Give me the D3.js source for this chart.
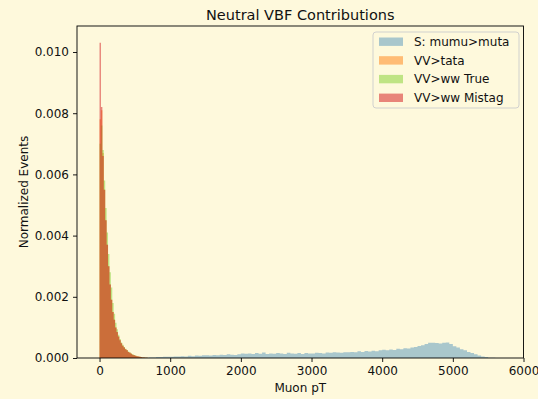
<!DOCTYPE html>
<html>
<head>
<meta charset="utf-8">
<script src="https://cdn.jsdelivr.net/npm/d3@7"></script>
<style>
  html, body { margin: 0; padding: 0; background: #fef9dc; }
  svg { display: block; font-family: "DejaVu Sans", sans-serif; }
</style>
</head>
<body>
<svg id="chart" width="538" height="399"></svg>
<script>
// Low-pT background samples: bins of 20 GeV starting at 0 GeV
const lowBinStart = 0;
const lowBinWidth = 20;
const vvTata = [0.0078, 0.0081, 0.0067, 0.0055, 0.0045, 0.0037, 0.0030, 0.0024, 0.0019, 0.0015,
                0.00125, 0.00100, 0.00084, 0.00070, 0.00058, 0.00048, 0.00040, 0.00034, 0.00029, 0.00025,
                0.00020, 0.00017, 0.00014, 0.00011, 0.00009, 0.00007, 0.00006, 0.00005, 0.00004, 0.00003,
                0.00002, 0.000015, 0.00001, 0.000006, 0.000004];
const vvWwTrue = [0.0070, 0.0076, 0.0068, 0.0058, 0.0049, 0.0041, 0.0034, 0.0028, 0.0023, 0.0018,
                  0.00145, 0.00115, 0.00094, 0.00076, 0.00062, 0.00051, 0.00043, 0.00036, 0.00030, 0.00026,
                  0.00021, 0.00018, 0.00015, 0.00012, 0.00010, 0.00008, 0.00006, 0.00005, 0.00004, 0.00003,
                  0.00002, 0.000015, 0.00001, 0.000006, 0.000004];
const vvWwMistag = [0.0103, 0.0082, 0.0066, 0.0055, 0.0045, 0.0037, 0.0030, 0.0024, 0.0019, 0.0015,
                    0.00125, 0.00100, 0.00085, 0.00070, 0.00058, 0.00048, 0.00040, 0.00034, 0.00029, 0.00025,
                    0.00020, 0.00017, 0.00014, 0.00011, 0.00009, 0.00007, 0.00006, 0.00005, 0.00004, 0.00003,
                    0.00002, 0.000015, 0.00001, 0.000006, 0.000004];

// Signal sample: bins of 50 GeV starting at 600 GeV
const sigBinStart = 600;
const sigBinWidth = 50;
const sigMumuMuta = [
  0.00001, 0.00001, 0.00002, 0.00002, 0.00003, 0.00003, 0.00004, 0.00004,
  0.00004, 0.00005, 0.00005, 0.00006, 0.00005, 0.00007, 0.00006, 0.00008, 0.00007, 0.00009,
  0.00009, 0.00008, 0.00010, 0.00009, 0.00011, 0.00010, 0.00012, 0.00011, 0.00010, 0.00012,
  0.00015, 0.00014, 0.00015, 0.00013, 0.00016, 0.00014, 0.00018, 0.00013, 0.00015, 0.00014,
  0.00016, 0.00015, 0.00013, 0.00017, 0.00015, 0.00014, 0.00016, 0.00013, 0.00016, 0.00015,
  0.00015, 0.00017, 0.00016, 0.00015, 0.00018, 0.00017, 0.00019, 0.00018, 0.00017, 0.00019,
  0.00019, 0.00020, 0.00019, 0.00022, 0.00020, 0.00023, 0.00021, 0.00024, 0.00022, 0.00025,
  0.00027, 0.00025, 0.00028, 0.00026, 0.00030, 0.00029, 0.00032, 0.00031, 0.00034, 0.00036,
  0.00039, 0.00042, 0.00046, 0.00050, 0.00050, 0.00049, 0.00047, 0.00050, 0.00051, 0.00046,
  0.00038, 0.00034, 0.00029, 0.00025, 0.00020, 0.00016, 0.00012, 0.00008, 0.00005, 0.00003,
  0.00001, 0.000005
];

const xTicks = [0, 1000, 2000, 3000, 4000, 5000, 6000];
const yTicks = [0, 0.002, 0.004, 0.006, 0.008, 0.010];

const seriesNames = ["S: mumu>muta", "VV>tata", "VV>ww True", "VV>ww Mistag"];
const seriesColors = ["#1f77b4", "#ff7f0e", "#7fd02c", "#d62728"];
const seriesOpacity = [0.38, 0.5, 0.5, 0.55];

const bg = "#fef9dc";
const W = 538, H = 399;
const margin = { left: 77, right: 14.5, top: 26, bottom: 41 };

const svg = d3.select("#chart");
svg.append("rect").attr("width", W).attr("height", H).attr("fill", bg);

const x = d3.scaleLinear().domain([-319, 6000]).range([margin.left, W - margin.right]);
const y = d3.scaleLinear().domain([0, 0.01085]).range([H - margin.bottom, margin.top]);

// Build histogram bins from start, width and density values
function toBins(values, start, width) {
  return values.map((v, i) => ({ x0: start + i * width, x1: start + (i + 1) * width, v }));
}

// Step outline of a histogram, closed along the baseline
function histPath(bins) {
  const p = d3.path();
  p.moveTo(x(bins[0].x0), y(0));
  bins.forEach(b => {
    p.lineTo(x(b.x0), y(b.v));
    p.lineTo(x(b.x1), y(b.v));
  });
  p.lineTo(x(bins[bins.length - 1].x1), y(0));
  p.closePath();
  return p.toString();
}

const series = [
  toBins(sigMumuMuta, sigBinStart, sigBinWidth),
  toBins(vvTata, lowBinStart, lowBinWidth),
  toBins(vvWwTrue, lowBinStart, lowBinWidth),
  toBins(vvWwMistag, lowBinStart, lowBinWidth)
];

const plot = svg.append("g");
series.forEach((bins, i) => {
  plot.append("path")
    .attr("d", histPath(bins))
    .attr("fill", seriesColors[i])
    .attr("fill-opacity", seriesOpacity[i])
    .attr("stroke", "none");
});

// Axes
const fontSize = 12;
const xAxis = d3.axisBottom(x).tickValues(xTicks).tickFormat(d3.format("d")).tickSizeOuter(0).tickSize(4).tickPadding(4);
const yAxis = d3.axisLeft(y).tickValues(yTicks).tickFormat(d3.format(".3f")).tickSizeOuter(0).tickSize(4).tickPadding(4);

const gx = svg.append("g").attr("transform", `translate(0,${H - margin.bottom})`).call(xAxis);
const gy = svg.append("g").attr("transform", `translate(${margin.left},0)`).call(yAxis);
[gx, gy].forEach(g => {
  g.select(".domain").remove();
  g.selectAll("line").attr("stroke", "#000").attr("stroke-width", 0.9);
  g.selectAll("text").attr("fill", "#111").attr("font-size", fontSize).attr("font-family", "DejaVu Sans");
});

// Frame
svg.append("rect")
  .attr("x", margin.left).attr("y", margin.top)
  .attr("width", W - margin.right - margin.left)
  .attr("height", H - margin.bottom - margin.top)
  .attr("fill", "none").attr("stroke", "#000").attr("stroke-width", 0.9);

// Title and axis labels
svg.append("text")
  .attr("x", (margin.left + W - margin.right) / 2).attr("y", 19.5)
  .attr("text-anchor", "middle").attr("font-size", 14.5).attr("fill", "#111")
  .text("Neutral VBF Contributions");

svg.append("text")
  .attr("x", (margin.left + W - margin.right) / 2).attr("y", 392)
  .attr("text-anchor", "middle").attr("font-size", fontSize).attr("fill", "#111")
  .text("Muon pT");

svg.append("text")
  .attr("transform", `translate(28,${(margin.top + H - margin.bottom) / 2}) rotate(-90)`)
  .attr("text-anchor", "middle").attr("font-size", fontSize).attr("fill", "#111")
  .text("Normalized Events");

// Legend
const lg = svg.append("g");
lg.append("rect")
  .attr("x", 373).attr("y", 32).attr("width", 146).attr("height", 76).attr("rx", 3)
  .attr("fill", bg).attr("fill-opacity", 0.8)
  .attr("stroke", "#cccccc").attr("stroke-width", 0.9);
seriesNames.forEach((name, i) => {
  const cy = 41.7 + i * 18.7;
  lg.append("rect")
    .attr("x", 379).attr("y", cy - 4.2).attr("width", 24).attr("height", 8.4)
    .attr("fill", seriesColors[i]).attr("fill-opacity", seriesOpacity[i]);
  lg.append("text")
    .attr("x", 414).attr("y", cy + 4.3)
    .attr("font-size", fontSize).attr("fill", "#111")
    .text(name);
});
</script>
</body>
</html>
